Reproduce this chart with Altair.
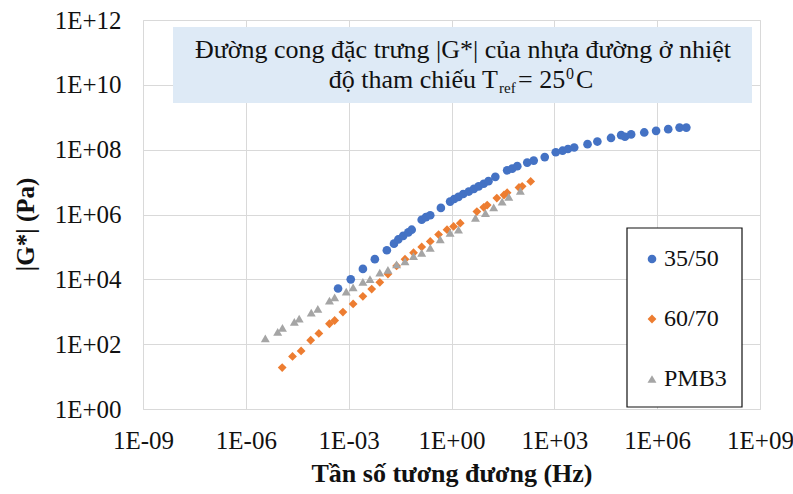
import altair as alt
import pandas as pd

# ---- data (x: Hz, y: Pa) ----
x_3550 = [4.9e-4, 1.15e-3, 2.6e-3, 5.8e-3, 1.3e-2, 2.1e-2, 2.8e-2, 3.9e-2, 5.5e-2, 6.9e-2,
          0.135, 0.18, 0.24, 0.49, 0.91, 1.2, 1.6, 2.2, 3.2, 4.5, 6.2, 8.7, 12, 19, 42, 59, 83,
          162, 250, 525, 1.1e3, 1.74e3, 2.5e3, 3.8e3, 9.3e3, 1.8e4, 4.5e4, 8.9e4, 1.15e5,
          1.74e5, 4.2e5, 9.3e5, 2.1e6, 4.5e6, 7.1e6]
y_3550 = [5.2e3, 1.0e4, 2.1e4, 4.2e4, 7.9e4, 1.26e5, 1.7e5, 2.2e5, 2.8e5, 3.4e5,
          6.9e5, 8.3e5, 9.5e5, 1.6e6, 2.5e6, 3.0e6, 3.5e6, 4.3e6, 5.1e6, 6.2e6, 7.4e6, 8.9e6,
          1.07e7, 1.45e7, 2.3e7, 2.6e7, 3.1e7, 4.0e7, 4.6e7, 5.9e7, 8.3e7, 9.3e7, 1.05e8,
          1.17e8, 1.48e8, 1.78e8, 2.3e8, 2.8e8, 2.5e8, 2.95e8, 3.4e8, 3.8e8, 4.3e8, 4.8e8, 4.8e8]

x_6070 = [1.15e-5, 2.3e-5, 4.1e-5, 7.8e-5, 1.35e-4, 2.75e-4, 3.9e-4, 6.8e-4, 1.35e-3, 2.6e-3,
          4.7e-3, 8.1e-3, 1.4e-2, 2.5e-2, 4.4e-2, 7.8e-2, 0.135, 0.24, 0.42, 0.74, 1.15, 1.8,
          5.5, 8.7, 11, 21, 34, 42, 93, 115, 204]
y_6070 = [19, 42, 62, 132, 214, 427, 537, 977, 1.74e3, 3.0e3,
          5.0e3, 8.1e3, 1.45e4, 2.6e4, 4.2e4, 6.6e4, 1.0e5, 1.48e5, 2.4e5, 3.4e5, 4.3e5, 5.4e5,
          1.23e6, 1.66e6, 1.95e6, 3.2e6, 4.0e6, 4.7e6, 6.8e6, 7.4e6, 1.05e7]

x_pmb3 = [3.7e-6, 8.5e-6, 1.17e-5, 2.6e-5, 3.6e-5, 8.1e-5, 1.26e-4, 2.75e-4, 3.9e-4, 8.5e-4,
          1.35e-3, 2.6e-3, 4.2e-3, 8.1e-3, 1.4e-2, 2.5e-2, 4.4e-2, 7.8e-2, 0.135, 0.24, 0.47,
          0.91, 1.6, 5.0, 9.8, 17, 30, 47, 102]
y_pmb3 = [151, 240, 316, 490, 617, 933, 1.23e3, 2.2e3, 2.8e3, 4.2e3,
          5.6e3, 8.3e3, 1.02e4, 1.62e4, 1.95e4, 2.9e4, 3.6e4, 5.2e4, 6.6e4, 9.3e4, 1.7e5,
          2.7e5, 3.4e5, 7.8e5, 1.1e6, 1.66e6, 2.5e6, 3.5e6, 5.4e6]

series_names = ["35/50", "60/70", "PMB3"]
series_colors = ["#4472C4", "#ED7D31", "#A5A5A5"]
series_shapes = ["circle", "diamond", "triangle-up"]
series_sizes = [75, 80, 110]

x_ticks = [1e-9, 1e-6, 1e-3, 1e0, 1e3, 1e6, 1e9]
y_ticks = [1e0, 1e2, 1e4, 1e6, 1e8, 1e10, 1e12]

title_line1 = "Đường cong đặc trưng |G*| của nhựa đường ở nhiệt"
title_line2a = "độ tham chiếu T"
title_sub = "ref"
title_line2b = "= 25"
title_sup = "0"
title_line2c = "C"

x_title = "Tần số tương đương (Hz)"
y_title = "|G*| (Pa)"

rows = []
for name, xs, ys in [("35/50", x_3550, y_3550), ("60/70", x_6070, y_6070), ("PMB3", x_pmb3, y_pmb3)]:
    for xv, yv in zip(xs, ys):
        rows.append({"f": xv, "g": yv, "s": name})
df = pd.DataFrame(rows)

FONT = "Liberation Serif"
label_expr = ("'1E' + (round(log(datum.value)/LN10) < 0 ? '-' : '+') + "
              "(abs(round(log(datum.value)/LN10)) < 10 ? '0' : '') + abs(round(log(datum.value)/LN10))")

W, H = 617, 389

points = alt.Chart(df).mark_point(filled=True, opacity=1, strokeWidth=0).encode(
    x=alt.X("f:Q", scale=alt.Scale(type="log", domain=[1e-9, 1e9], nice=False),
            axis=alt.Axis(values=x_ticks, labelExpr=label_expr, title=x_title,
                          grid=True, gridColor="#D9D9D9", ticks=False, tickSize=0, domain=False,
                          labelPadding=19, labelFontSize=25, labelFont=FONT, labelColor="#111",
                          titleFont=FONT, titleFontSize=26, titleFontWeight="bold", titleColor="#111",
                          titleY=64, titleBaseline="middle", labelFlush=False)),
    y=alt.Y("g:Q", scale=alt.Scale(type="log", domain=[1, 1e12], nice=False),
            axis=alt.Axis(values=y_ticks, labelExpr=label_expr, title=y_title,
                          grid=True, gridColor="#D9D9D9", ticks=False, tickSize=0, domain=False,
                          labelPadding=22, labelFontSize=25, labelFont=FONT, labelColor="#111",
                          titleFont=FONT, titleFontSize=25, titleFontWeight="bold", titleColor="#111",
                          titleAngle=-90, titleX=-118, titleY=204, titleAlign="center",
                          titleBaseline="middle", labelFlush=False)),
    color=alt.Color("s:N", scale=alt.Scale(domain=series_names, range=series_colors),
                    legend=alt.Legend(title=None, orient="none", legendX=484, legendY=214,
                                      padding=13, rowPadding=36,
                                      labelFont=FONT, labelFontSize=24,
                                      labelColor="#111", symbolSize=40, labelOffset=0,
                                      symbolStrokeWidth=0)),
    shape=alt.Shape("s:N", scale=alt.Scale(domain=series_names, range=series_shapes)),
    size=alt.Size("s:N", scale=alt.Scale(domain=series_names, range=series_sizes), legend=None),
    order=alt.Order("s:N"),
)

one = pd.DataFrame({"a": [0]})

box = alt.Chart(one).mark_rect(fill="#DEEAF6").encode(
    x=alt.value(30), x2=alt.value(609), y=alt.value(7), y2=alt.value(83))

legend_box = alt.Chart(one).mark_rect(fill="white", stroke="#111", strokeWidth=1.2).encode(
    x=alt.value(484), x2=alt.value(599), y=alt.value(208), y2=alt.value(387))

def txt(t, x, y, size=26, align="center", dy=0):
    return alt.Chart(one).mark_text(
        text=t, font=FONT, fontSize=size, align=align, baseline="alphabetic",
        color="#111", dy=dy).encode(x=alt.value(x), y=alt.value(y))

t1 = txt(title_line1, 320, 38)
t2a = txt(title_line2a, 355, 68, align="right")
t2s = txt(title_sub, 356, 68, size=15, align="left", dy=5)
t2b = txt(title_line2b, 375, 68, align="left")
t2p = txt(title_sup, 423, 68, size=16, align="left", dy=-9)
t2c = txt(title_line2c, 433, 68, align="left")

chart = alt.layer(box, legend_box, t1, t2a, t2s, t2b, t2p, t2c, points).properties(
    width=W, height=H,
    autosize=alt.AutoSizeParams(type="none"),
    padding={"left": 143, "top": 20, "right": 33, "bottom": 85},
).configure_view(stroke="#222", strokeWidth=1.2).configure(background="white")

chart.save("out.html", embed_options={"renderer": "svg", "actions": False})
